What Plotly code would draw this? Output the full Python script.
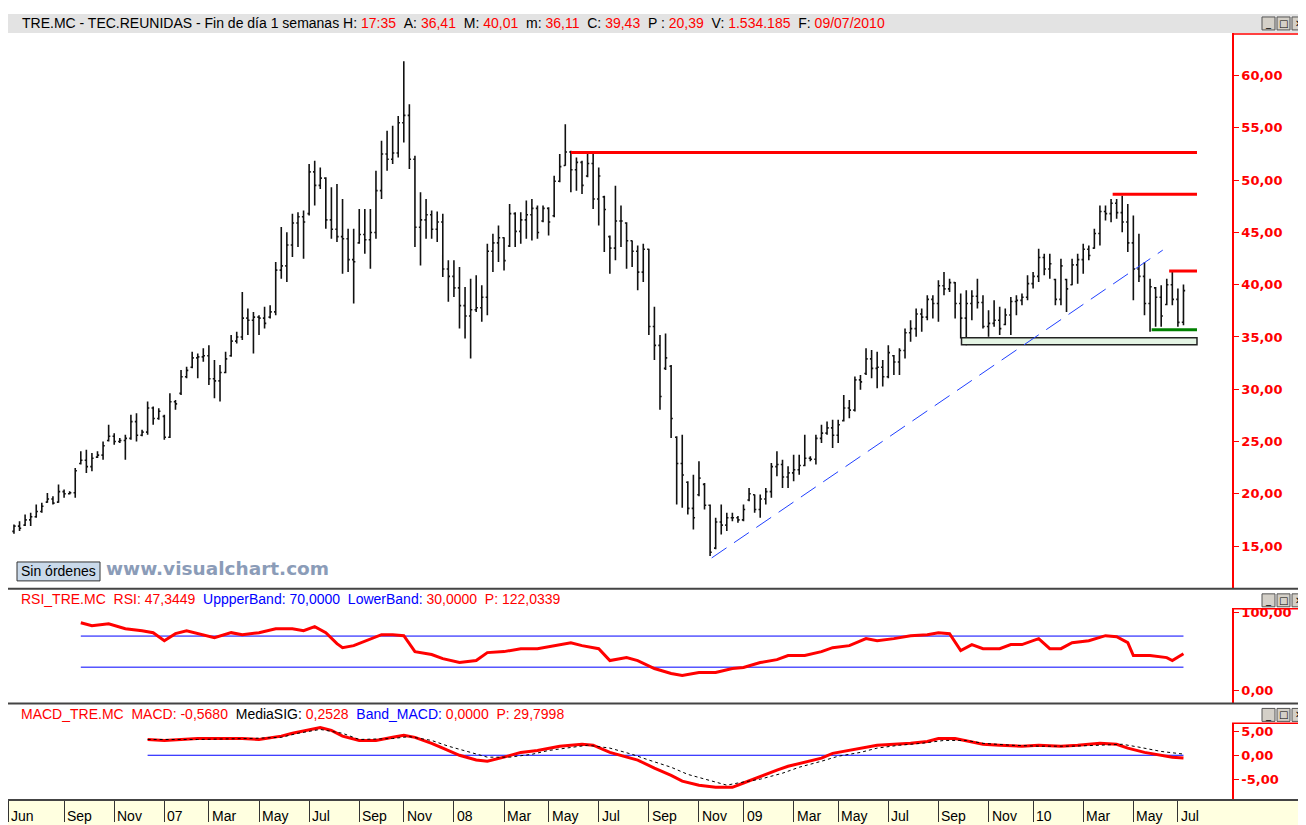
import pandas as pd
import plotly.graph_objects as go

# page is offset by the 8px body margin of the html page
OFF = 8
W, H = 1306 - OFF, 825 - OFF

# ---------------- data ----------------
first_week = "2006-06-30"
n_weeks = 211

highs = [
    17.07, 17.38, 18.02, 18.18, 18.97, 19.13, 20.08, 19.77, 20.88, 20.40,
    20.24, 22.47, 24.06, 24.22, 23.90, 24.06, 25.01, 26.60, 25.80, 25.33,
    25.64, 27.55, 27.71, 26.12, 28.82, 28.35, 28.19, 27.55, 29.62, 28.98,
    31.84, 32.16, 33.59, 33.43, 33.91, 34.22, 32.79, 32.32, 33.59, 35.18,
    35.50, 39.31, 37.72, 37.40, 37.08, 37.88, 38.04, 42.17, 45.51, 45.03,
    46.78, 46.93, 47.09, 51.54, 51.86, 51.22, 50.27, 49.32, 49.64, 48.21,
    45.35, 45.35, 47.25, 47.25, 47.25, 50.91, 53.77, 54.72, 55.20, 56.15,
    61.39, 57.26, 52.34, 48.84, 48.21, 47.09, 47.00, 46.78, 42.33, 42.33,
    41.69, 39.79, 40.58, 40.90, 39.94, 43.92, 44.87, 45.66, 44.55, 47.73,
    46.93, 46.93, 48.05, 48.21, 47.57, 47.57, 47.41, 50.43, 52.50, 55.36,
    52.81, 52.18, 51.86, 52.50, 52.50, 51.22, 48.52, 44.71, 49.48, 47.57,
    45.98, 44.23, 43.76, 43.92, 43.44, 37.88, 35.18, 35.34, 32.32, 25.49,
    25.64, 21.19, 21.83, 23.10, 21.04, 18.97, 17.70, 18.97, 18.18, 18.18,
    17.86, 18.97, 20.56, 19.93, 19.93, 20.56, 22.94, 24.06, 23.26, 22.63,
    23.74, 23.74, 25.64, 23.58, 25.64, 26.60, 26.91, 27.07, 27.07, 29.46,
    28.98, 31.21, 31.37, 33.91, 33.75, 33.59, 32.79, 34.22, 33.27, 33.91,
    35.81, 36.61, 37.72, 37.72, 38.99, 38.99, 40.42, 41.21, 40.58, 40.26,
    39.15, 39.47, 39.47, 40.58, 38.99, 37.56, 38.51, 37.88, 37.72, 38.83,
    38.99, 39.15, 40.90, 41.21, 43.44, 42.96, 42.96, 40.58, 42.49, 40.58,
    42.49, 42.96, 43.92, 43.76, 45.35, 47.57, 47.57, 48.21, 48.21, 48.52,
    47.73, 46.62, 44.87, 42.17, 40.58, 39.79, 39.94, 40.58, 41.21, 39.63,
    40.01,
]
lows = [
    16.18, 16.43, 16.91, 16.91, 17.70, 18.18, 19.13, 18.97, 19.13, 19.61,
    19.93, 19.61, 22.79, 21.99, 22.15, 23.42, 23.26, 25.01, 24.69, 24.85,
    23.26, 25.17, 25.01, 25.49, 25.64, 26.60, 27.07, 25.17, 25.33, 28.03,
    29.46, 31.05, 32.00, 31.05, 32.64, 30.41, 29.14, 28.82, 31.52, 33.11,
    34.38, 34.70, 35.18, 33.43, 35.18, 35.81, 36.77, 37.08, 40.58, 40.26,
    42.65, 43.60, 42.49, 46.62, 47.57, 49.16, 45.35, 44.39, 44.08, 41.06,
    41.21, 38.20, 43.92, 42.96, 41.53, 44.39, 48.21, 50.91, 51.54, 52.18,
    53.61, 51.07, 43.60, 41.85, 44.39, 44.39, 44.08, 40.74, 38.36, 38.83,
    35.81, 34.86, 32.95, 37.40, 36.45, 37.08, 41.21, 42.17, 41.37, 43.60,
    43.60, 43.92, 44.39, 44.23, 44.39, 45.98, 44.71, 46.46, 49.80, 51.38,
    48.84, 49.00, 48.68, 50.27, 47.25, 45.66, 43.12, 41.06, 42.33, 43.60,
    41.53, 41.69, 39.47, 40.26, 35.18, 32.79, 28.03, 31.84, 25.33, 18.97,
    18.65, 18.02, 16.59, 19.77, 18.50, 14.05, 14.68, 16.11, 16.43, 17.38,
    17.23, 17.38, 19.29, 18.18, 17.70, 18.97, 19.61, 21.67, 20.56, 20.56,
    21.19, 21.83, 22.63, 23.10, 22.79, 24.85, 25.64, 24.38, 24.85, 26.91,
    27.23, 27.87, 29.94, 31.37, 31.05, 30.09, 30.25, 31.05, 31.37, 31.37,
    32.95, 34.54, 35.02, 35.50, 36.61, 36.77, 36.45, 38.99, 39.31, 36.77,
    34.86, 34.22, 36.61, 37.72, 35.81, 35.02, 35.97, 35.18, 36.13, 35.18,
    37.08, 38.04, 38.51, 39.63, 40.26, 40.90, 40.58, 38.04, 38.04, 37.40,
    39.94, 40.10, 41.06, 42.33, 43.44, 43.76, 46.14, 45.98, 46.30, 45.03,
    43.12, 38.51, 40.26, 37.08, 35.50, 35.97, 35.97, 38.04, 38.04, 35.97,
    36.11,
]
opens = [
    16.4, 16.9, 17.0, 17.5, 17.8, 18.3, 19.2, 19.5, 19.2, 20.2,
    20.0, 20.1, 22.9, 23.2, 22.6, 23.5, 23.7, 25.1, 25.5, 25.0,
    25.1, 25.3, 26.9, 25.6, 25.9, 28.2, 27.2, 27.4, 25.4, 28.8,
    29.6, 31.2, 32.1, 33.0, 33.1, 33.2, 31.0, 30.8, 31.6, 33.2,
    34.6, 35.0, 36.8, 36.6, 36.9, 36.8, 36.9, 37.4, 41.4, 41.8,
    43.8, 45.9, 46.5, 46.8, 50.8, 49.5, 50.2, 46.2, 45.3, 44.6,
    44.4, 42.4, 44.0, 44.8, 44.3, 45.0, 49.0, 52.5, 52.0, 52.6,
    55.5, 56.2, 52.0, 45.5, 46.2, 46.7, 45.3, 46.0, 41.5, 40.8,
    39.7, 38.0, 37.0, 37.6, 37.8, 38.8, 43.2, 44.0, 44.5, 43.7,
    46.8, 45.1, 46.2, 46.7, 47.3, 46.1, 47.3, 46.6, 49.9, 51.4,
    52.7, 51.0, 51.7, 50.4, 51.6, 48.2, 48.4, 44.6, 43.5, 46.1,
    45.9, 44.2, 43.2, 41.2, 43.4, 36.0, 34.2, 32.0, 32.2, 25.4,
    22.9, 21.1, 18.6, 19.9, 20.9, 18.9, 14.8, 17.3, 17.0, 17.7,
    17.7, 17.5, 19.4, 19.9, 18.5, 19.5, 20.2, 22.6, 22.8, 21.6,
    22.0, 22.3, 22.7, 23.4, 23.3, 25.3, 25.8, 26.3, 25.6, 27.0,
    28.2, 28.0, 30.9, 31.5, 32.9, 32.0, 32.1, 31.2, 33.2, 32.6,
    33.7, 35.4, 35.8, 37.2, 36.9, 38.6, 38.2, 39.9, 39.6, 40.2,
    38.2, 36.8, 38.2, 38.9, 38.3, 36.0, 36.3, 36.6, 36.2, 37.1,
    38.4, 38.5, 38.8, 40.1, 40.8, 42.6, 41.5, 40.5, 38.6, 40.5,
    40.0, 41.9, 42.4, 43.4, 43.5, 44.9, 47.0, 46.8, 47.8, 46.9,
    46.0, 44.0, 41.5, 40.8, 38.2, 39.7, 38.8, 38.1, 40.0, 38.6,
    36.41,
]
closes = [
    16.9, 16.7, 17.5, 17.8, 18.3, 18.8, 19.5, 19.1, 20.2, 20.0,
    20.1, 22.2, 23.2, 22.6, 23.4, 23.7, 24.6, 25.5, 25.0, 25.1,
    25.3, 26.9, 25.6, 25.9, 28.2, 27.2, 27.9, 25.4, 28.8, 28.6,
    31.2, 31.8, 33.0, 33.1, 33.2, 31.0, 30.8, 31.6, 32.9, 34.6,
    35.0, 36.8, 36.6, 36.9, 36.8, 36.3, 37.4, 41.4, 41.8, 43.8,
    45.9, 46.5, 46.0, 50.8, 49.5, 50.2, 46.2, 45.3, 44.6, 44.4,
    42.4, 42.2, 44.8, 44.3, 45.0, 49.0, 52.5, 52.0, 52.6, 55.5,
    56.2, 52.0, 45.5, 46.2, 46.7, 45.3, 46.0, 41.5, 40.8, 39.7,
    38.0, 37.0, 37.6, 37.8, 38.8, 43.2, 44.0, 44.5, 42.3, 46.8,
    45.1, 46.2, 46.7, 47.3, 45.0, 47.3, 46.0, 49.9, 51.3, 52.7,
    51.0, 51.7, 49.5, 51.6, 48.2, 50.4, 47.2, 43.5, 46.1, 46.1,
    44.2, 43.2, 41.2, 43.4, 36.0, 34.2, 29.3, 33.0, 27.2, 22.9,
    21.8, 18.6, 17.7, 21.5, 18.9, 14.4, 17.3, 17.0, 17.7, 17.7,
    17.5, 18.5, 20.0, 18.5, 19.5, 20.2, 22.6, 22.8, 21.6, 22.0,
    22.3, 22.7, 23.4, 23.3, 25.3, 25.8, 26.3, 25.6, 26.6, 28.2,
    28.0, 30.9, 30.7, 32.9, 32.0, 32.1, 31.2, 33.5, 32.6, 33.7,
    35.4, 35.8, 37.2, 36.9, 38.6, 38.2, 39.9, 39.6, 40.2, 38.2,
    36.8, 38.2, 38.9, 38.3, 36.0, 36.3, 36.6, 35.8, 37.1, 38.4,
    38.5, 38.8, 40.1, 40.8, 42.6, 41.5, 42.0, 38.6, 41.8, 39.6,
    41.9, 42.4, 43.4, 42.8, 44.9, 47.0, 46.8, 47.8, 46.9, 46.0,
    44.0, 41.5, 40.8, 38.2, 39.8, 38.8, 37.0, 40.0, 38.6, 36.4,
    39.43,
]

# RSI (read at sampled weeks; index into weekly bars)
rsi_idx = [12, 14, 17, 20, 23, 25, 27, 29, 31, 33, 36, 39, 41, 44, 47, 50, 52, 54, 56, 58,
           59, 61, 64, 66, 68, 70, 72, 75, 77, 80, 83, 85, 88, 91, 94, 97, 100, 102, 105, 107,
           110, 112, 115, 118, 120, 123, 126, 129, 131, 134, 137, 139, 142, 145, 147, 150, 153, 155, 158, 161,
           164, 166, 168, 170, 172, 174, 177, 179, 181, 184, 186, 188, 190, 193, 196, 198, 200, 201, 204, 207,
           208, 210]
rsi_val = [87.2, 83.3, 85.9, 79.5, 76.9, 74.4, 64.1, 73.1, 76.9, 73.1, 67.9, 74.4, 71.8, 74.4, 79.5, 79.5, 76.9, 82.1, 74.4, 60.3,
           55.1, 57.7, 66.7, 71.8, 71.8, 70.5, 50.0, 46.2, 41.0, 35.9, 38.5, 48.7, 50.0, 53.8, 53.8, 57.7, 61.5, 57.7, 53.8, 38.5,
           42.3, 38.5, 28.2, 21.8, 19.2, 23.1, 23.1, 28.2, 29.5, 35.9, 39.7, 44.9, 44.9, 50.0, 55.1, 57.7, 66.7, 64.1, 66.7, 70.5,
           71.8, 74.4, 73.1, 51.3, 59.0, 53.8, 53.8, 59.0, 59.0, 66.7, 53.8, 53.8, 61.5, 64.1, 70.5, 69.2, 61.5, 44.9, 44.9, 42.3,
           38.5, 47.34]
rsi_bands = [70, 30]
rsi_band_start = 12

macd_idx = [24, 27, 30, 33, 37, 41, 44, 48, 50, 53, 55, 57, 59, 62, 65, 68, 70, 72, 75, 77,
            80, 83, 85, 88, 91, 94, 98, 102, 104, 107, 110, 112, 115, 118, 120, 123, 126, 129, 131, 134,
            137, 139, 142, 145, 147, 150, 153, 155, 158, 161, 164, 166, 169, 172, 174, 177, 181, 184, 188, 191,
            195, 198, 200, 203, 206, 208, 210]
macd_val = [3.3, 3.1, 3.3, 3.5, 3.5, 3.5, 3.3, 4.0, 4.6, 5.4, 5.8, 5.2, 4.0, 3.1, 3.1, 3.75, 4.2, 3.75, 2.5, 1.5,
            0.0, -1.0, -1.25, -0.4, 0.6, 1.0, 1.9, 2.3, 2.1, 0.6, -0.4, -1.0, -2.7, -4.2, -5.4, -6.25, -6.7, -6.7, -5.8, -4.4,
            -3.1, -2.3, -1.5, -0.6, 0.4, 1.0, 1.7, 2.1, 2.3, 2.5, 2.9, 3.5, 3.5, 2.7, 2.3, 2.1, 1.9, 2.1, 1.9, 2.1,
            2.5, 2.3, 1.5, 0.6, 0.0, -0.4, -0.568]
sig_idx = [24, 33, 42, 48, 51, 55, 59, 62, 68, 71, 75, 78, 82, 85, 89, 93, 96, 100, 103, 107,
           111, 114, 118, 121, 125, 128, 130, 134, 138, 141, 145, 148, 152, 155, 159, 163, 167, 171, 174, 179,
           184, 190, 195, 199, 202, 206, 210]
sig_val = [3.3, 3.3, 3.5, 3.75, 4.6, 5.4, 4.6, 3.3, 3.5, 3.9, 3.1, 1.9, 0.6, -0.4, -0.4, 0.2, 1.0, 1.7, 2.1, 1.5,
           0.2, -1.0, -2.5, -4.0, -5.2, -6.25, -5.8, -5.0, -3.75, -2.5, -1.25, -0.2, 0.6, 1.5, 2.1, 2.5, 3.1, 3.1, 2.5, 2.1,
           1.9, 1.9, 2.1, 2.3, 1.7, 0.8, 0.25]
macd_band = 0
macd_band_start = 24

# drawn levels on the price chart
res_levels = [52.65, 48.65, 41.31]
res_starts = ["2008-05-30", "2010-04-11", "2010-06-21"]
sup_level = 35.69
sup_start = "2010-05-30"
zone_low, zone_high = 34.26, 34.92
zone_start = "2009-10-03"
levels_end = "2010-07-26"
trend_x = ["2008-11-23", "2010-06-13"]
trend_y = [13.86, 43.31]

# axes
price_ticks = [15, 20, 25, 30, 35, 40, 45, 50, 55, 60]
price_ticktext = ["15,00", "20,00", "25,00", "30,00", "35,00", "40,00", "45,00", "50,00", "55,00", "60,00"]
rsi_ticks, rsi_ticktext = [0, 100], ["0,00", "100,00"]
macd_ticks, macd_ticktext = [-5, 0, 5], ["-5,00", "0,00", "5,00"]
month_ticks = ["2006-06-23", "2006-09-01", "2006-11-03", "2007-01-05", "2007-03-02", "2007-05-04",
               "2007-07-06", "2007-09-07", "2007-11-02", "2008-01-04", "2008-03-07", "2008-05-02",
               "2008-07-04", "2008-09-05", "2008-11-07", "2009-01-02", "2009-03-06", "2009-05-01",
               "2009-07-03", "2009-09-04", "2009-11-06", "2010-01-01", "2010-03-05", "2010-05-07",
               "2010-07-02"]
month_labels = ["Jun", "Sep", "Nov", "07", "Mar", "May", "Jul", "Sep", "Nov", "08", "Mar", "May",
                "Jul", "Sep", "Nov", "09", "Mar", "May", "Jul", "Sep", "Nov", "10", "Mar", "May", "Jul"]

header_left = "TRE.MC - TEC.REUNIDAS - Fin de día 1 semanas"
header_fields = [("H:", "17:35"), ("A:", "36,41"), ("M:", "40,01"), ("m:", "36,11"),
                 ("C:", "39,43"), ("P :", "20,39"), ("V:", "1.534.185"), ("F:", "09/07/2010")]

assert len(highs) == len(lows) == len(opens) == len(closes) == n_weeks
dates = pd.date_range(first_week, periods=n_weeks, freq="7D")

# ---------------- figure ----------------
RED = "#ff0000"
FONT = "Arial, 'Liberation Sans', sans-serif"
TICKFONT = "'DejaVu Sans', Verdana, sans-serif"


def px(x):
    return (x - OFF) / W


def py(y):
    return 1 - (y - OFF) / H


fig = go.Figure()
fig.add_trace(go.Ohlc(
    x=dates, open=opens, high=highs, low=lows, close=closes,
    increasing=dict(line=dict(color="#111111", width=1.6)),
    decreasing=dict(line=dict(color="#111111", width=1.6)),
    tickwidth=0.3, xaxis="x", yaxis="y", hoverinfo="skip"))

# RSI
for b in rsi_bands:
    fig.add_trace(go.Scatter(x=[dates[rsi_band_start], dates[-1]], y=[b, b], mode="lines",
                             line=dict(color="#0000ff", width=1), yaxis="y2", hoverinfo="skip"))
fig.add_trace(go.Scatter(x=[dates[i] for i in rsi_idx], y=rsi_val, mode="lines",
                         line=dict(color=RED, width=3), yaxis="y2", hoverinfo="skip"))
# MACD
fig.add_trace(go.Scatter(x=[dates[macd_band_start], dates[-1]], y=[macd_band] * 2, mode="lines",
                         line=dict(color="#0000ff", width=1), yaxis="y3", hoverinfo="skip"))
fig.add_trace(go.Scatter(x=[dates[i] for i in macd_idx], y=macd_val, mode="lines",
                         line=dict(color=RED, width=3), yaxis="y3", hoverinfo="skip"))
fig.add_trace(go.Scatter(x=[dates[i] for i in sig_idx], y=sig_val, mode="lines",
                         line=dict(color="#000000", width=1, dash="dot"), yaxis="y3", hoverinfo="skip"))

shapes = []
# backgrounds / chrome
shapes.append(dict(type="rect", xref="paper", yref="paper", x0=0, x1=1, y0=py(30), y1=py(11),
                   fillcolor="#e3e3e3", line=dict(width=0), layer="below"))
shapes.append(dict(type="rect", xref="paper", yref="paper", x0=0, x1=1, y0=0, y1=py(801),
                   fillcolor="#ffffe0", line=dict(width=0), layer="below"))
for yy in (588, 703, 800):
    shapes.append(dict(type="line", xref="paper", yref="paper", x0=0, x1=1, y0=py(yy), y1=py(yy),
                       line=dict(color="#444444", width=2)))
# red bracket tops of value axes
for yy in (31, 608, 723):
    shapes.append(dict(type="line", xref="paper", yref="paper", x0=px(1232), x1=1, y0=py(yy), y1=py(yy),
                       line=dict(color=RED, width=1.5)))
# window buttons
for yb in (14, 593, 708):
    for xb in (1262, 1277, 1292):
        shapes.append(dict(type="rect", xref="paper", yref="paper", x0=px(xb), x1=px(xb + 13),
                           y0=py(yb + 13), y1=py(yb), fillcolor="#d4d0c8",
                           line=dict(color="#555555", width=1)))
# "Sin órdenes" button
shapes.append(dict(type="rect", xref="paper", yref="paper", x0=px(17), x1=px(100), y0=py(580), y1=py(561),
                   fillcolor="#c9d9ea", line=dict(color="#333333", width=1)))

# chart drawings (data coordinates)
shapes.append(dict(type="rect", xref="x", yref="y", x0=zone_start, x1=levels_end, y0=zone_low, y1=zone_high,
                   fillcolor="#e4f4e4", line=dict(color="#222222", width=1.5)))
for lv, st in zip(res_levels, res_starts):
    shapes.append(dict(type="line", xref="x", yref="y", x0=st, x1=levels_end, y0=lv, y1=lv,
                       line=dict(color=RED, width=3)))
shapes.append(dict(type="line", xref="x", yref="y", x0=sup_start, x1=levels_end, y0=sup_level, y1=sup_level,
                   line=dict(color="#008000", width=3)))
shapes.append(dict(type="line", xref="x", yref="y", x0=trend_x[0], x1=trend_x[1], y0=trend_y[0], y1=trend_y[1],
                   line=dict(color="#2040ff", width=1, dash="18px,9px")))

annotations = []
NB = "\u00a0"
hdr = header_left
for lab, val in header_fields:
    hdr += NB + lab + NB + '<span style="color:#ff0000">' + val + "</span>" + NB
annotations.append(dict(xref="paper", yref="paper", x=px(20), y=py(20.5), xanchor="left", yanchor="middle",
                        text=hdr, showarrow=False, font=dict(family=FONT, size=14, color="#000000")))
annotations.append(dict(xref="paper", yref="paper", x=px(19), y=py(598.5), xanchor="left", yanchor="middle",
                        text='<span style="color:#ff0000">RSI_TRE.MC' + NB + ' RSI: 47,3449</span>' + NB + ' '
                             '<span style="color:#0000ff">UppperBand: 70,0000</span>' + NB + ' '
                             '<span style="color:#0000ff">LowerBand:</span> <span style="color:#ff0000">30,0000' + NB + ' P: 122,0339</span>',
                        showarrow=False, font=dict(family=FONT, size=14)))
annotations.append(dict(xref="paper", yref="paper", x=px(19), y=py(713.5), xanchor="left", yanchor="middle",
                        text='<span style="color:#ff0000">MACD_TRE.MC' + NB + ' MACD: -0,5680</span>' + NB + ' '
                             '<span style="color:#000000">MediaSIG:</span> <span style="color:#ff0000">0,2528</span>' + NB + ' '
                             '<span style="color:#0000ff">Band_MACD:</span> <span style="color:#ff0000">0,0000' + NB + ' P: 29,7998</span>',
                        showarrow=False, font=dict(family=FONT, size=14)))
annotations.append(dict(xref="paper", yref="paper", x=px(58.5), y=py(570.5), xanchor="center", yanchor="middle",
                        text="Sin órdenes", showarrow=False, font=dict(family=FONT, size=14, color="#000000")))
annotations.append(dict(xref="paper", yref="paper", x=px(104), y=py(567.5), xanchor="left", yanchor="middle",
                        text="<b>www.visualchart.com</b>", showarrow=False,
                        font=dict(family="Verdana, 'DejaVu Sans', sans-serif", size=18.5, color="#8b9cb8")))
for yb in (14, 593, 708):
    for xb, g in zip((1262, 1277, 1292), ("_", "□", "✕")):
        annotations.append(dict(xref="paper", yref="paper", x=px(xb + 6.5), y=py(yb + 6.5), xanchor="center",
                                yanchor="middle", text=g, showarrow=False,
                                font=dict(family="DejaVu Sans, sans-serif", size=10, color="#000000")))
for d, lab in zip(month_ticks, month_labels):
    annotations.append(dict(xref="x", yref="paper", x=d, y=py(816), xanchor="left", yanchor="middle",
                            xshift=1, text=lab, showarrow=False,
                            font=dict(family=FONT, size=14, color="#000000")))

x_left = dates[0] - pd.Timedelta(days=7.5)
x_right = dates[-1] + pd.Timedelta(days=61)

axis_common = dict(side="right", anchor="x", showgrid=False, zeroline=False, showline=True,
                   linecolor=RED, linewidth=1.5, ticks="outside", ticklen=5, tickcolor=RED,
                   tickfont=dict(family=TICKFONT, size=13, color=RED, weight="bold"))

fig.update_layout(
    width=W, height=H, margin=dict(l=0, r=0, t=0, b=0),
    paper_bgcolor="#ffffff", plot_bgcolor="#ffffff", showlegend=False,
    xaxis=dict(domain=[px(8), px(1232)], range=[x_left, x_right], anchor="y3", type="date",
               showgrid=False, zeroline=False, showline=False, rangeslider=dict(visible=False),
               tickmode="array", tickvals=month_ticks, ticks="outside", ticklen=21, tickcolor="#333333",
               tickwidth=1, showticklabels=False),
    yaxis=dict(domain=[py(588), py(30)], range=[10.90, 64.09], tickmode="array",
               tickvals=price_ticks, ticktext=price_ticktext, **axis_common),
    yaxis2=dict(domain=[py(703), py(608)], range=[-16.7, 105.1], tickmode="array",
                tickvals=rsi_ticks, ticktext=rsi_ticktext, **axis_common),
    yaxis3=dict(domain=[py(800), py(723)], range=[-9.375, 6.67], tickmode="array",
                tickvals=macd_ticks, ticktext=macd_ticktext, **axis_common),
    shapes=shapes, annotations=annotations,
)

fig.write_html("out.html")
